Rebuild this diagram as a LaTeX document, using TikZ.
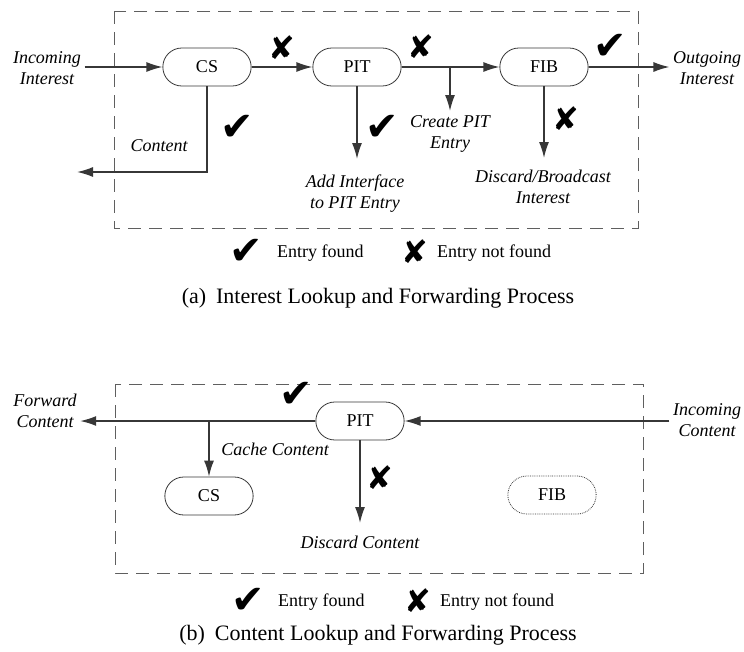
\documentclass[tikz,border=0pt]{standalone}
\usepackage{fontspec}
\setmainfont{Liberation Serif}
\newfontfamily\symfont{DejaVu Sans}
\usetikzlibrary{positioning}
\usetikzlibrary{shapes.misc}
\usetikzlibrary{arrows.meta}

\definecolor{linegray}{RGB}{55,55,55}
\definecolor{boxgray}{RGB}{95,95,95}

\newcommand{\found}{{\symfont\fontsize{40}{40}\selectfont ✔}}
\newcommand{\notfound}{{\symfont\fontsize{32}{32}\selectfont ✘}}

\begin{document}
\begin{tikzpicture}[x=1pt, y=-1pt,
		    unit/.style={draw=linegray, rounded rectangle, line width=0.8pt,
			   minimum width=95pt, minimum height=38pt,
			   font=\fontsize{18}{18}\selectfont},
		    lbl/.style={font=\fontsize{18}{21}\selectfont\itshape, align=center},
		    legend/.style={font=\fontsize{18}{18}\selectfont, anchor=west, inner sep=0pt},
		    caption/.style={font=\fontsize{22}{22}\selectfont},
		    sym/.style={inner sep=0pt},
		    flow/.style={draw=linegray, line width=1.4pt, -{Latex[length=16pt,width=10pt]}},
		    frame/.style={draw=boxgray, line width=0.9pt, dash pattern=on 13pt off 8pt}]
 \useasboundingbox (0,0) rectangle (744,651);

 % (a) interest
 \draw[frame] (114,11) rectangle (638,228);
 \node[unit] (cs) at (207,67) {CS};
 \node[unit] (pit) at (357,67) {PIT};
 \node[unit] (fib) at (544,67) {FIB};
 \node[lbl] (inint) at (47,68) {Incoming\\Interest};
 \node[lbl] (outint) at (707,68) {Outgoing\\Interest};
 \node[lbl] (content) at (159,146) {Content};
 \node[lbl] (addif) at (355,194) {Add Interface\\to PIT Entry};
 \node[lbl] (create) at (450,134) {Create PIT\\Entry};
 \node[lbl] (discard) at (543,187) {Discard/Broadcast\\Interest};
 \coordinate (ret) at (77,172);
 \coordinate (split) at (450,67);
 \coordinate (createtip) at (450,111);
 \coordinate (addtip) at (357,159);
 \coordinate (discardtip) at (544,158);

 \draw[flow] (inint.east |- cs.west) -- (cs.west);
 \draw[flow] (cs.east) -- (pit.west);
 \draw[flow] (pit.east) -- (fib.west);
 \draw[flow] (fib.east) -- (outint.west |- fib.east);
 \draw[flow] (cs.south) |- (ret);
 \draw[flow] (pit.south) -- (addtip);
 \draw[flow] (split) -- (createtip);
 \draw[flow] (fib.south) -- (discardtip);

 \node[sym] (csyes) at (237,128) {\found};
 \node[sym] (csno) at (282,48) {\notfound};
 \node[sym] (pityes) at (382,128) {\found};
 \node[sym] (pitno) at (421,47) {\notfound};
 \node[sym] (fibno) at (566,119) {\notfound};
 \node[sym] (fibyes) at (610,47) {\found};

 \node[sym] (keyyesa) at (246,252) {\found};
 \node[legend] at (277,253) {Entry found};
 \node[sym] (keynoa) at (415,252) {\notfound};
 \node[legend] at (437,253) {Entry not found};
 \node[caption] (capa) at (378,298) {(a)\hspace{0.45em}Interest Lookup and Forwarding Process};

 % (b) content
 \draw[frame] (115,384) rectangle (643,573);
 \node[unit] (pitb) at (360,421) {PIT};
 \node[unit] (csb) at (209,496) {CS};
 \node[unit, densely dotted] (fibb) at (552,495) {FIB};
 \node[lbl] (fwd) at (45,411) {Forward\\Content};
 \node[lbl] (incont) at (707,420) {Incoming\\Content};
 \node[lbl] (cache) at (275,449) {Cache Content};
 \node[lbl] (drop) at (360,542) {Discard Content};
 \coordinate (droptip) at (360,523);

 \draw[flow] (incont.west |- pitb.east) -- (pitb.east);
 \draw[flow] (pitb.west) -- (fwd.east |- pitb.west);
 \draw[flow] (csb.north |- pitb.west) -- (csb.north);
 \draw[flow] (pitb.south) -- (droptip);

 \node[sym] (pitbyes) at (296,395) {\found};
 \node[sym] (pitbno) at (380,478) {\notfound};

 \node[sym] (keyyesb) at (248,601) {\found};
 \node[legend] at (278,602) {Entry found};
 \node[sym] (keynob) at (418,601) {\notfound};
 \node[legend] at (440,602) {Entry not found};
 \node[caption] (capb) at (378,635) {(b)\hspace{0.45em}Content Lookup and Forwarding Process};
\end{tikzpicture}
\end{document}
